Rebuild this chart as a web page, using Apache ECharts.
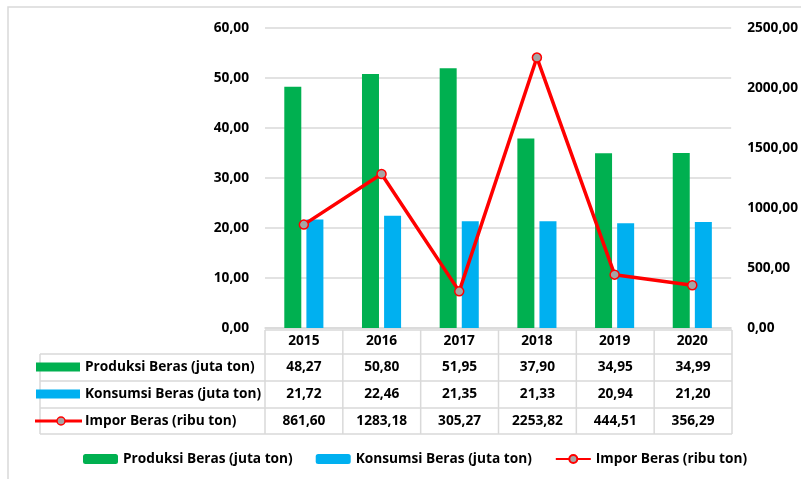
<!DOCTYPE html>
<html><head><meta charset="utf-8">
<script src="https://cdn.jsdelivr.net/npm/echarts@6/dist/echarts.min.js"></script>
<style>html,body{margin:0;padding:0;background:#fff}#c{width:801px;height:479px}</style>
</head><body><div id="c"></div>
<script>
const categories = ['2015','2016','2017','2018','2019','2020'];
const produksi = [48.27, 50.80, 51.95, 37.90, 34.95, 34.99];
const konsumsi = [21.72, 22.46, 21.35, 21.33, 20.94, 21.20];
const impor = [861.60, 1283.18, 305.27, 2253.82, 444.51, 356.29];
const seriesNames = ['Produksi Beras (juta ton)', 'Konsumsi Beras (juta ton)', 'Impor Beras (ribu ton)'];
const leftTicks = {min: 0, max: 60, interval: 10};
const rightTicks = {min: 0, max: 2500, interval: 500};

const FONT = '"Open Sans"';
const FS = 13.7;
const GREEN = '#00b050', BLUE = '#00b0f0', RED = '#ff0000', GRAY = '#d9d9d9';
const fmt = v => Number(v).toFixed(2).replace('.', ',');

const gL = 265, gR = 732, gT = 28, gB = 328;
const colW = (gR - gL) / categories.length;
const tblLeft = 40;
const rowY = [330, 354, 381, 408, 434];

const g = [];
g.push({type:'rect', shape:{x:8, y:7, width:900, height:600}, style:{fill:'none', stroke:GRAY, lineWidth:1.5}, z:-1});
const line = (x1,y1,x2,y2) => g.push({type:'line', shape:{x1,y1,x2,y2}, style:{stroke:GRAY, lineWidth:1.5}});
line(gL, rowY[0], gR, rowY[0]);
for (let i = 1; i < rowY.length; i++) line(tblLeft, rowY[i], gR, rowY[i]);
line(tblLeft, rowY[1], tblLeft, rowY[4]);
for (let i = 0; i <= categories.length; i++) line(gL + i*colW, rowY[0], gL + i*colW, rowY[4]);
const dataRows = [produksi, konsumsi, impor];
const txt = (x, y, text, align) => g.push({type:'text', x, y, style:{text, x:0, y:0, align, verticalAlign:'middle', fill:'#000', font:'bold ' + FS + 'px ' + FONT}});
for (let r = 0; r < 3; r++) {
  const cy = (rowY[r+1] + rowY[r+2]) / 2;
  txt(85, cy, seriesNames[r], 'left');
  dataRows[r].forEach((v, i) => txt(gL + (i + 0.5)*colW, cy, fmt(v), 'center'));
  if (r < 2) {
    g.push({type:'rect', shape:{x:36, y:cy-5, width:44, height:9}, style:{fill: r===0?GREEN:BLUE}});
  } else {
    g.push({type:'line', shape:{x1:35, y1:cy, x2:82, y2:cy}, style:{stroke:RED, lineWidth:3}});
    g.push({type:'circle', shape:{cx:61, cy:cy, r:4}, style:{fill:'#a5a5a5', stroke:RED, lineWidth:1.5}});
  }
}

const labelStyle = {fontFamily: FONT, fontWeight: 'bold', fontSize: FS, color: '#000'};
const chart = echarts.init(document.getElementById('c'));
chart.setOption({
  animation: false,
  textStyle: {fontFamily: FONT},
  grid: {left: gL, right: 801 - gR, top: gT, bottom: 479 - gB, containLabel: false},
  legend: {
    left: 78, top: 447, itemWidth: 35, itemHeight: 10, itemGap: 23,
    textStyle: labelStyle,
    data: seriesNames
  },
  xAxis: {
    type: 'category', data: categories,
    axisLine: {show: true, lineStyle: {color: GRAY, width: 1.5}},
    axisTick: {show: false},
    axisLabel: Object.assign({margin: 6}, labelStyle)
  },
  yAxis: [
    {type: 'value', min: leftTicks.min, max: leftTicks.max, interval: leftTicks.interval,
     axisLine: {show: false}, axisTick: {show: false},
     splitLine: {lineStyle: {color: GRAY, width: 1.5}},
     axisLabel: Object.assign({formatter: fmt, margin: 16}, labelStyle)},
    {type: 'value', min: rightTicks.min, max: rightTicks.max, interval: rightTicks.interval,
     axisLine: {show: false}, axisTick: {show: false}, splitLine: {show: false},
     axisLabel: Object.assign({formatter: fmt, margin: 16}, labelStyle)}
  ],
  series: [
    {name: seriesNames[0], type: 'bar', data: produksi, barWidth: 17, barGap: '30%', itemStyle: {color: GREEN}},
    {name: seriesNames[1], type: 'bar', data: konsumsi, barWidth: 17, barGap: '30%', itemStyle: {color: BLUE}},
    {name: seriesNames[2], type: 'line', yAxisIndex: 1, data: impor, symbol: 'circle', symbolSize: 9,
     lineStyle: {color: RED, width: 3.5}, itemStyle: {color: '#a5a5a5', borderColor: RED, borderWidth: 1.5}, z: 5}
  ],
  graphic: g
});
</script></body></html>
